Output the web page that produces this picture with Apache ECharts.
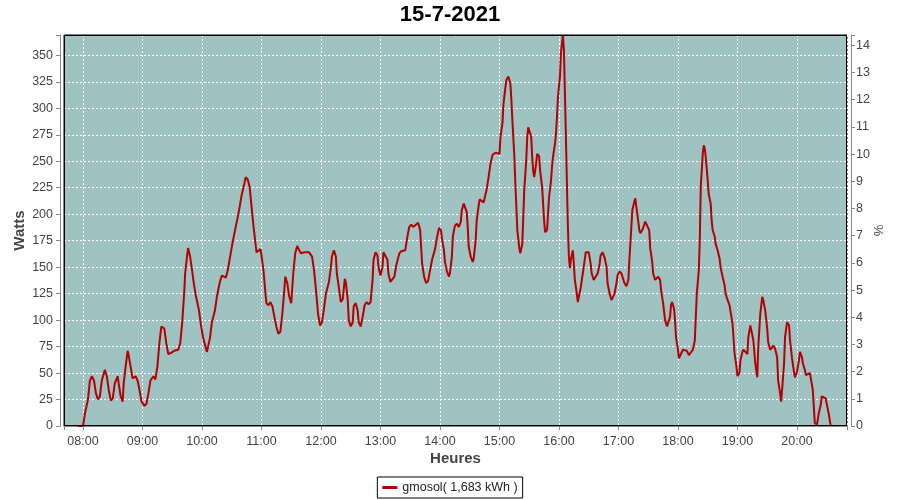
<!DOCTYPE html>
<html>
<head>
<meta charset="utf-8">
<script src="https://cdn.jsdelivr.net/npm/echarts@6/dist/echarts.min.js"></script>
<style>
  html, body { margin: 0; padding: 0; background: #fff; }
  #chart { width: 900px; height: 500px; }
</style>
</head>
<body>
<div id="chart"></div>
<script>
// ---- Data ----
const chartTitle = '15-7-2021';
const seriesName = 'gmosol( 1,683 kWh )';
const times = [
 '07:55','08:00','08:02','08:05','08:07','08:09','08:11','08:13','08:15','08:17','08:19','08:22','08:24','08:26','08:28','08:30',
 '08:32','08:35','08:36','08:38','08:40','08:41','08:43','08:45','08:46','08:48','08:50','08:53','08:55','08:57','08:59',
 '09:02','09:04','09:06','09:08','09:11','09:13','09:15','09:17','09:19','09:22','09:24','09:26','09:29','09:32','09:36',
 '09:38','09:40','09:42','09:43','09:45','09:46','09:48','09:50','09:52','09:54','09:57','09:59',
 '10:01','10:04','10:05','10:08','10:10','10:13','10:15','10:18','10:20','10:24','10:26','10:28','10:31','10:34','10:36',
 '10:38','10:40','10:43','10:44','10:46','10:48','10:50','10:52','10:54','10:55','10:57','10:59',
 '11:00','11:02','11:04','11:05','11:07','11:09','11:11','11:13','11:15','11:17','11:19','11:21','11:23','11:24','11:26',
 '11:28','11:30','11:32','11:34','11:36','11:38','11:40','11:43','11:45','11:48','11:51','11:53','11:55','11:57','11:59',
 '12:01','12:03','12:05','12:08','12:10','12:11','12:13','12:15','12:16','12:18','12:20','12:22','12:24','12:25','12:27',
 '12:28','12:30','12:32','12:33','12:35','12:37','12:38','12:40','12:42','12:44','12:46','12:48','12:50','12:52','12:53',
 '12:55','12:57','12:58',
 '13:00','13:02','13:03','13:05','13:07','13:08','13:10','13:12','13:14','13:16','13:19','13:21','13:23','13:25','13:27',
 '13:29','13:31','13:33','13:35','13:38','13:40','13:41','13:42','13:44','13:46','13:48','13:50','13:52','13:55','13:57','13:59',
 '14:01','14:02','14:04','14:05','14:07','14:09','14:10','14:12','14:13','14:15','14:17','14:19','14:21','14:22','14:24',
 '14:25','14:27','14:28','14:29','14:31','14:33','14:34','14:36','14:37','14:39','14:40','14:42','14:44','14:46','14:47',
 '14:49','14:51','14:53','14:56','14:58',
 '15:00','15:01','15:03','15:04','15:06','15:07','15:09','15:11','15:12','15:13','15:15','15:16','15:17','15:18','15:20',
 '15:21','15:23','15:24','15:25','15:27','15:28','15:29','15:30','15:32','15:33','15:34','15:35','15:37','15:38','15:40',
 '15:41','15:43','15:44','15:45','15:46','15:48','15:49','15:50','15:52','15:53','15:54','15:56','15:57','15:58','15:59',
 '16:01','16:02','16:03','16:04','16:05','16:06','16:07','16:08','16:09','16:10','16:11','16:12','16:14','16:15','16:16',
 '16:18','16:19','16:21','16:22','16:24','16:26','16:27','16:30','16:32','16:33','16:35','16:37','16:39','16:41','16:42',
 '16:44','16:46','16:48','16:49','16:51','16:53','16:54','16:56','16:58','16:59',
 '17:01','17:03','17:06','17:08','17:10','17:11','17:13','17:14','17:16','17:17','17:18','17:20','17:21','17:22','17:24',
 '17:26','17:27','17:29','17:31','17:32','17:34','17:35','17:37','17:38','17:40','17:42','17:43','17:45','17:47','17:49',
 '17:50','17:52','17:53','17:54','17:56','17:57','17:58',
 '18:00','18:01','18:03','18:05','18:07','18:09','18:11','18:13','18:15','18:17','18:18','18:19','18:21','18:22','18:23',
 '18:25','18:26','18:27','18:28','18:30','18:31','18:33','18:34','18:35','18:37','18:38','18:40','18:42','18:43','18:45',
 '18:47','18:48','18:50','18:52','18:53','18:55','18:56','18:57','18:59',
 '19:00','19:02','19:03','19:05','19:06','19:08','19:10','19:11','19:13','19:15','19:16','19:18','19:20','19:21','19:23',
 '19:25','19:26','19:28','19:30','19:31','19:33','19:35','19:36','19:38','19:40','19:41','19:43','19:44','19:45','19:47',
 '19:48','19:50','19:52','19:53','19:55','19:57','19:58',
 '20:00','20:02','20:03','20:05','20:06','20:08','20:09','20:11','20:13','20:14','20:16','20:17','20:18','20:20','20:21',
 '20:22','20:24','20:25','20:27','20:29','20:30','20:32','20:34'
];
const watts = [
 0,0,12,25,43,47,43,31,25,28,43,53,47,34,24,26,
 40,47,40,28,23,40,56,71,67,56,45,47,43,34,23,
 19,21,31,43,47,44,56,78,94,92,78,68,69,71,72,
 78,97,125,144,161,168,160,147,133,122,109,95,
 84,73,70,83,98,109,122,136,142,140,147,158,174,188,197,
 207,218,230,235,233,226,207,188,172,164,165,167,
 161,147,125,116,114,117,113,103,94,87,89,106,128,141,135,
 122,116,144,163,170,166,163,164,165,164,160,147,128,106,95,
 98,111,125,136,150,160,166,160,144,131,117,120,139,136,119,
 100,94,98,113,116,109,98,94,103,114,117,115,117,138,157,
 164,161,150,
 142,150,164,163,157,144,136,135,141,152,163,165,164,166,178,
 188,190,188,189,192,185,169,153,141,135,137,147,157,167,178,187,
 185,177,166,155,146,141,144,160,179,189,191,188,193,204,210,
 210,202,188,169,160,155,158,175,194,208,214,213,211,212,223,
 235,248,256,258,257,
 257,273,286,304,320,327,330,323,308,289,254,229,207,185,168,
 163,172,197,223,251,273,282,279,273,254,241,235,248,257,255,
 241,226,210,194,183,185,201,216,232,245,254,267,276,292,311,
 330,352,361,369,355,314,273,229,188,160,149,157,166,153,138,
 125,117,117,131,144,157,164,164,153,144,138,138,144,153,161,
 164,159,150,135,125,119,119,125,135,142,
 146,144,135,132,138,157,188,204,212,215,207,193,185,182,185,
 190,193,193,185,168,155,144,138,139,141,138,128,116,100,94,
 94,103,114,117,111,100,84,
 72,64,68,72,73,71,67,67,72,81,103,125,147,175,226,
 257,265,262,254,232,219,210,194,185,179,172,166,158,150,141,
 133,125,119,114,108,97,84,69,56,
 47,50,62,70,72,70,68,84,95,94,81,59,46,75,106,
 122,119,109,92,79,72,74,76,73,65,43,31,23,34,59,
 84,98,95,81,64,51,46,
 51,62,70,65,59,53,48,48,50,45,34,18,3,1,6,
 12,20,28,29,26,21,12,0
];
// axis ranges and ticks
const xStart = '07:40:50';
const xEnd = '20:50:28';
const wattsMax = 369.2;
const wattsStep = 25;
const pctMax = 14.38;
const pctStep = 1;

// ---- Build chart ----
function toTs(s) {
  const p = s.split(':').map(Number);
  return new Date(2021, 6, 15, p[0], p[1], p[2] || 0).getTime();
}
function pad(n) { return (n < 10 ? '0' : '') + n; }
const seriesData = times.map((t, i) => [toTs(t), watts[i]]);

const FONT = 'Liberation Sans';
const chart = echarts.init(document.getElementById('chart'), null, { renderer: 'canvas' });
const gridL = 64, gridT = 35, gridR = 53, gridB = 74;

chart.setOption({
  animation: false,
  backgroundColor: '#ffffff',
  title: {
    text: chartTitle,
    left: 'center',
    top: 0,
    padding: [4, 5],
    textStyle: { fontFamily: FONT, fontWeight: 'bold', fontSize: 22, color: '#000' }
  },
  grid: {
    left: gridL, top: gridT, right: gridR, bottom: gridB,
    show: true, backgroundColor: '#9fc3c2', borderColor: '#000', borderWidth: 1
  },
  legend: {
    data: [seriesName],
    left: 'center',
    top: 477,
    padding: [4, 5],
    borderColor: '#000',
    borderWidth: 1,
    borderRadius: 0,
    icon: 'rect',
    itemWidth: 15,
    itemHeight: 3,
    textStyle: { fontFamily: FONT, fontSize: 12.5, color: '#222' }
  },
  xAxis: {
    type: 'time',
    min: toTs(xStart),
    max: toTs(xEnd),
    minInterval: 3600 * 1000,
    maxInterval: 3600 * 1000,
    offset: 4,
    name: 'Heures',
    nameLocation: 'middle',
    nameGap: 21,
    nameMoveOverlap: false,
    nameTextStyle: { fontFamily: FONT, fontWeight: 'bold', fontSize: 15, color: '#444' },
    axisLine: { show: true, lineStyle: { color: '#888', width: 1 } },
    axisTick: { show: true, length: 4, lineStyle: { color: '#888' } },
    axisLabel: {
      fontFamily: FONT, fontSize: 12.5, color: '#444', margin: 5,
      showMinLabel: true, showMaxLabel: true, hideOverlap: false,
      formatter: function (v) {
        const d = new Date(v);
        if (d.getMinutes() !== 0 || d.getSeconds() !== 0) return '';
        return pad(d.getHours()) + ':00';
      }
    },
    splitLine: { show: true, lineStyle: { color: '#ffffff', width: 1, type: [2, 2] } }
  },
  yAxis: [
    {
      type: 'value',
      position: 'left',
      min: 0, max: wattsMax, interval: wattsStep,
      offset: 4,
      name: 'Watts',
      nameLocation: 'middle',
      nameRotate: 90,
      nameGap: 33,
      nameMoveOverlap: false,
      nameTextStyle: { fontFamily: FONT, fontWeight: 'bold', fontSize: 15, color: '#444' },
      axisLine: { show: true, lineStyle: { color: '#888', width: 1 } },
      axisTick: { show: true, length: 4, lineStyle: { color: '#888' } },
      axisLabel: {
        fontFamily: FONT, fontSize: 12.5, color: '#444', margin: 7,
        formatter: function (v) { return (Math.abs(v % wattsStep) < 1e-6) ? String(v) : ''; }
      },
      splitLine: { show: true, lineStyle: { color: '#ffffff', width: 1, type: [2, 2] } }
    },
    {
      type: 'value',
      position: 'right',
      min: 0, max: pctMax, interval: pctStep,
      offset: 4,
      name: '%',
      nameLocation: 'middle',
      nameRotate: 90,
      nameGap: 22,
      nameMoveOverlap: false,
      nameTextStyle: { fontFamily: FONT, fontSize: 13, color: '#444' },
      axisLine: { show: true, lineStyle: { color: '#888', width: 1 } },
      axisTick: { show: true, length: 4, lineStyle: { color: '#888' } },
      axisLabel: {
        fontFamily: FONT, fontSize: 12.5, color: '#444', margin: 5,
        formatter: function (v) { return (Math.abs(v - Math.round(v)) < 1e-6) ? String(Math.round(v)) : ''; }
      },
      splitLine: { show: false }
    }
  ],
  graphic: [{
    type: 'rect',
    z: 100,
    silent: true,
    shape: { x: gridL + 0.5, y: gridT + 0.5, width: 900 - gridL - gridR - 1, height: 500 - gridT - gridB - 1 },
    style: { fill: 'none', stroke: '#000', lineWidth: 1 }
  }],
  series: [{
    name: seriesName,
    type: 'line',
    yAxisIndex: 0,
    data: seriesData,
    showSymbol: false,
    symbol: 'none',
    clip: true,
    lineStyle: { color: '#b40000', width: 2 },
    itemStyle: { color: '#b40000' }
  }]
});
</script>
</body>
</html>
